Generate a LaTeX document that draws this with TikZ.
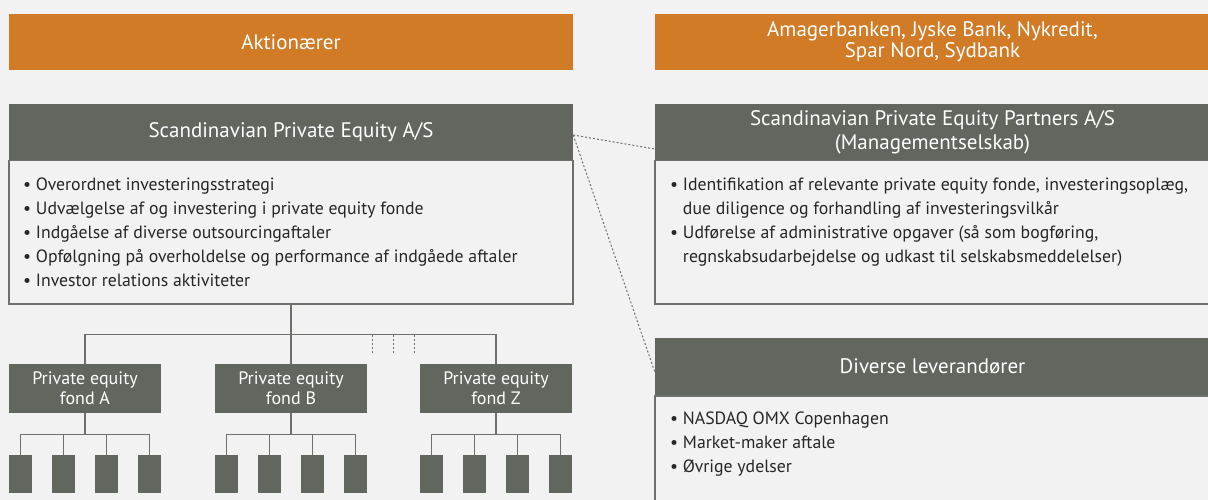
\documentclass[tikz,border=0pt]{standalone}
\usepackage{fontspec}
\setmainfont{PT Sans}
\usetikzlibrary{positioning}
\definecolor{pageback}{HTML}{F2F2F2}
\definecolor{ownerorange}{HTML}{D17B27}
\definecolor{unitgrey}{HTML}{61665E}
\definecolor{linegrey}{HTML}{6E706C}
\tikzset{
  orangebox/.style={fill=ownerorange, text=white, align=center, inner sep=0pt,
    font=\fontsize{21}{21}\selectfont},
  headbox/.style={fill=unitgrey, text=white, align=center, inner sep=0pt,
    font=\fontsize{21}{24}\selectfont},
  bodybox/.style={draw=linegrey, line width=1.3pt, fill=pageback, inner sep=0pt},
  fondbox/.style={headbox, minimum width=152pt, minimum height=49pt,
    font=\fontsize{18}{20}\selectfont},
  leafbox/.style={fill=unitgrey, minimum width=23pt, minimum height=38pt, inner sep=0pt},
  listtext/.style={align=left, inner sep=0pt, text=black!85,
    font=\fontsize{17.75}{24}\selectfont},
  conn/.style={draw=linegrey, line width=1.3pt},
  dotline/.style={draw=linegrey, line width=1pt, dash pattern=on 2pt off 2pt}
}
\begin{document}
\begin{tikzpicture}[x=1pt, y=-1pt]
\fill[pageback] (0,0) rectangle (1208,500);
\useasboundingbox (0,0) rectangle (1208,500);

\node[orangebox, minimum width=564pt, minimum height=56pt] (aktion) at (291,42) {Aktionærer};
\node[orangebox, minimum width=555pt, minimum height=56pt] (banks) at (932.5,42)
  {Amagerbanken, Jyske Bank, Nykredit,\\Spar Nord, Sydbank};

\node[headbox, minimum width=564pt, minimum height=56pt] (spe) at (291,132)
  {Scandinavian Private Equity A/S};
\node[bodybox, minimum width=564pt, minimum height=143pt, anchor=north] (spebody) at (spe.south) {};
\node[listtext, anchor=north west] (spelist) at (23,178)
  {• Overordnet investeringsstrategi\\
   • Udvælgelse af og investering i private equity fonde\\
   • Indgåelse af diverse outsourcingaftaler\\
   • Opfølgning på overholdelse og performance af indgåede aftaler\\
   • Investor relations aktiviteter};

\node[headbox, minimum width=555pt, minimum height=56pt] (partners) at (932.5,132)
  {Scandinavian Private Equity Partners A/S\\(Managementselskab)};
\node[bodybox, minimum width=555pt, minimum height=143pt, anchor=north] (partnersbody) at (partners.south) {};
\node[listtext, anchor=north west] (partnerslist) at (670,178)
  {• Identifikation af relevante private equity fonde, investeringsoplæg,\\
   \phantom{• }due diligence og forhandling af investeringsvilkår\\
   • Udførelse af administrative opgaver (så som bogføring,\\
   \phantom{• }regnskabsudarbejdelse og udkast til selskabsmeddelelser)};

\node[headbox, minimum width=555pt, minimum height=57pt] (diverse) at (932.5,366.5)
  {Diverse leverandører};
\node[bodybox, minimum width=555pt, minimum height=125pt, anchor=north] (diversebody) at (diverse.south) {};
\node[listtext, anchor=north west] (diverselist) at (670,412)
  {• NASDAQ OMX Copenhagen\\
   • Market-maker aftale\\
   • Øvrige ydelser};

\draw[dotline] ([yshift=-3pt]spe.east) -- ([yshift=-17pt]partners.west);
\draw[dotline] ([yshift=-3pt]spe.east) -- ([yshift=-5.5pt]diverse.west);

\foreach \f/\cx in {A/85, B/291, Z/496} {
  \node[fondbox] (fond\f) at (\cx,388.5) {Private equity\\fond \f};
  \foreach \i/\dx in {1/-64.5, 2/-21.5, 3/21.5, 4/64.5}
    \node[leafbox] (fond\f\i) at ({\cx+(\dx)},474) {};
  \draw[conn] (fond\f.south) -- ++(0,22);
  \draw[conn] (fond\f1.north) -- ++(0,-20) -| (fond\f4.north);
  \draw[conn] (fond\f2.north) -- ++(0,-20);
  \draw[conn] (fond\f3.north) -- ++(0,-20);
}
\draw[conn] (spebody.south) -- (fondB.north);
\draw[conn] (fondA.north) -- ++(0,-29) -| (fondZ.north);
\foreach \x in {372,393,414}
  \draw[dotline] (\x,335) -- (\x,354);
\end{tikzpicture}
\end{document}
